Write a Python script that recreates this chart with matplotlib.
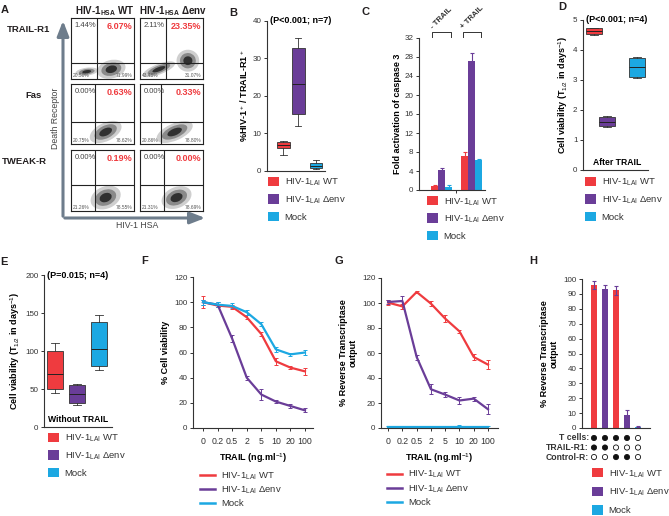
import matplotlib
matplotlib.use("Agg")
import matplotlib.pyplot as plt
from matplotlib.patches import Patch, Ellipse
from matplotlib.lines import Line2D

W, H = 669, 516
RED = "#ef3b3f"
PURPLE = "#6a3d98"
BLUE = "#1ca8e2"
COLORS = [RED, PURPLE, BLUE]
INK = "#231f20"
ARROW = "#6e7d8c"

plt.rcParams["font.family"] = ["Liberation Sans", "DejaVu Sans"]
plt.rcParams["mathtext.fontset"] = "custom"
plt.rcParams["mathtext.rm"] = "Liberation Sans"
plt.rcParams["mathtext.bf"] = "Liberation Sans:bold"
plt.rcParams["axes.linewidth"] = 0.8

GROUPS = ["HIV-1$_{\\mathrm{LAI}}$ WT", "HIV-1$_{\\mathrm{LAI}}$ Δenv", "Mock"]

# A: flow cytometry quadrant read-outs
a_rows = ["TRAIL-R1", "Fas", "TWEAK-R"]
a_cols = ["HIV-1$_{\\mathbf{HSA}}$ WT", "HIV-1$_{\\mathbf{HSA}}$ Δenv"]
a_upper_left = [["1.44%", "2.11%"], ["0.00%", "0.00%"], ["0.00%", "0.00%"]]
a_upper_right = [["6.07%", "23.35%"], ["0.63%", "0.33%"], ["0.19%", "0.00%"]]
a_lower_left = [["20.50%", "43.48%"], ["20.75%", "20.86%"], ["21.26%", "21.31%"]]
a_lower_right = [["71.99%", "31.07%"], ["78.62%", "78.80%"], ["78.55%", "78.69%"]]
a_gate_x = [[0.41, 0.41], [0.38, 0.33], [0.38, 0.38]]
a_gate_y = [[0.26, 0.26], [0.37, 0.37], [0.43, 0.43]]

# B: %HIV-1+/TRAIL-R1+ (whislo, q1, median, q3, whishi)
b_stats = [(4.3, 6.0, 6.8, 7.7, 7.9), (12.0, 15.1, 23.3, 32.8, 35.5), (0.5, 0.9, 1.4, 2.0, 2.8)]

# C: fold activation of caspase 3
c_conditions = ["- TRAIL", "+ TRAIL"]
c_minus = [0.8, 4.3, 0.6]
c_minus_err = [0.2, 0.4, 0.5]
c_plus = [7.1, 27.2, 6.4]
c_plus_err = [0.8, 1.6, 0.1]

# D: cell viability after TRAIL
d_stats = [(4.51, 4.53, 4.63, 4.72, 4.73), (1.43, 1.47, 1.61, 1.78, 1.79), (3.08, 3.11, 3.42, 3.74, 3.76)]

# E: cell viability without TRAIL
e_stats = [(45, 50.5, 70, 100, 110), (29.5, 31.6, 44, 55, 57), (75.6, 80.4, 103, 138.5, 147)]

# F / G: TRAIL dose response
trail_doses = ["0", "0.2", "0.5", "2", "5", "10", "20", "100"]
f_wt = [100, 97.3, 96.3, 88, 74.7, 53, 48, 45]
f_wt_err = [5, 1.5, 1.5, 1.5, 1.5, 3, 1.5, 3]
f_env = [100, 98, 71, 40, 26.6, 21, 17.5, 14]
f_env_err = [2, 2, 3, 1.5, 4, 1.5, 1.5, 1.5]
f_mock = [100, 98, 97, 92, 82.5, 62.5, 58.5, 60]
f_mock_err = [2, 2, 2, 2, 1.5, 2, 1.5, 2]
g_wt = [100.3, 97.3, 108.8, 99.5, 87.5, 77.3, 56.8, 50.7]
g_wt_err = [2, 2, 1, 2, 3, 1.5, 2.5, 3.5]
g_env = [100.8, 101.6, 56.8, 31, 26.7, 22, 23.5, 15]
g_env_err = [1.5, 4, 2, 4, 2, 3, 1.5, 4]
g_mock = [0.5, 0.5, 0.5, 0.5, 0.5, 0.5, 0.5, 0.5]
g_mock_err = [1, 1.5, 1, 1, 1.5, 2, 1, 1]

# H: reverse transcriptase output with receptor blocking
h_values = [96, 93, 92.5, 9, 1]
h_err = [2.5, 3, 3, 3, 0.4]
h_colors = [RED, PURPLE, RED, PURPLE, BLUE]
h_rows = ["T cells:", "TRAIL-R1:", "Control-R:"]
h_t_cells = [1, 1, 1, 1, 0]
h_trail_r1 = [1, 1, 0, 0, 0]
h_control_r = [0, 0, 1, 1, 0]

fig = plt.figure(figsize=(W / 100, H / 100), dpi=100)


def px_axes(left, top, right, bottom):
    ax = fig.add_axes([left / W, 1 - bottom / H, (right - left) / W, (bottom - top) / H])
    ax.set_facecolor("none")
    return ax


def style(ax):
    for side in ("top", "right"):
        ax.spines[side].set_visible(False)
    for side in ("left", "bottom"):
        ax.spines[side].set_color("#333333")
        ax.spines[side].set_linewidth(0.8)
    ax.tick_params(labelsize=5.8, length=2.5, width=0.7, pad=1.5, colors="#333333")


def legend(ax, handles, x, y, spacing, kind="patch"):
    kw = dict(handlelength=1.15, handleheight=1.15) if kind == "patch" else dict(handlelength=1.6)
    ax.legend(handles=handles, loc="upper left", bbox_to_anchor=(x / W, 1 - y / H),
              bbox_transform=fig.transFigure, frameon=False, fontsize=6.8, borderpad=0,
              borderaxespad=0, labelspacing=spacing, handletextpad=0.6, labelcolor="#333333", **kw)


patches = [Patch(facecolor=c, edgecolor="none", label=g) for c, g in zip(COLORS, GROUPS)]
lines = [Line2D([], [], color=c, lw=1.8, label=g) for c, g in zip(COLORS, GROUPS)]


def boxes(ax, stats, positions, width):
    bstats = [dict(whislo=s[0], q1=s[1], med=s[2], q3=s[3], whishi=s[4]) for s in stats]
    art = ax.bxp(bstats, positions=positions, widths=width, patch_artist=True, showfliers=False,
                 manage_ticks=False, boxprops=dict(linewidth=0.6, edgecolor="#333333"),
                 medianprops=dict(color="#222222", linewidth=0.7),
                 whiskerprops=dict(color="#333333", linewidth=0.6),
                 capprops=dict(color="#333333", linewidth=0.6))
    for patch, c in zip(art["boxes"], COLORS):
        patch.set_facecolor(c)


# ---------- A ----------
col_x = [(71, 134), (140, 203)]
row_y = [(18, 79), (84, 144), (150, 211)]
a_clouds = [
    [[(0.25, 0.12, 0.36, 0.13, 8), (0.64, 0.16, 0.46, 0.3, 15)],
     [(0.3, 0.16, 0.55, 0.17, 22), (0.76, 0.3, 0.36, 0.36, 35)]],
    [[(0.55, 0.2, 0.55, 0.3, 28)], [(0.55, 0.2, 0.62, 0.28, 25)]],
    [[(0.55, 0.22, 0.5, 0.36, 25)], [(0.58, 0.22, 0.5, 0.34, 25)]],
]
for r, (top, bottom) in enumerate(row_y):
    for c, (left, right) in enumerate(col_x):
        ax = px_axes(left, top, right, bottom)
        ax.set_xlim(0, 1)
        ax.set_ylim(0, 1)
        ax.set_xticks([])
        ax.set_yticks([])
        for sp in ax.spines.values():
            sp.set_linewidth(0.8)
            sp.set_color("#222222")
        for cx, cy, w, h, ang in a_clouds[r][c]:
            for scale, col in ((1.0, "#cfcfcf"), (0.7, "#8a8a8a"), (0.4, "#303030")):
                ax.add_patch(Ellipse((cx, cy), w * scale, h * scale, angle=ang, color=col, lw=0))
        ax.axvline(a_gate_x[r][c], color="#222222", lw=0.8)
        ax.axhline(a_gate_y[r][c], color="#222222", lw=0.8)
        ax.text(0.06, 0.93, a_upper_left[r][c], fontsize=5.5, color="#444444", va="top")
        ax.text(0.97, 0.93, a_upper_right[r][c], fontsize=6.5, color=RED, fontweight="bold",
                va="top", ha="right")
        ax.text(0.03, 0.04, a_lower_left[r][c], fontsize=3.5, color="#555555")
        ax.text(0.97, 0.04, a_lower_right[r][c], fontsize=3.5, color="#555555", ha="right")

# ---------- B ----------
ax = px_axes(267, 21, 325, 171)
style(ax)
boxes(ax, b_stats, [0, 1, 2.2], 0.85)
ax.set_xlim(-1.1, 2.8)
ax.set_ylim(0, 40)
ax.set_yticks([0, 10, 20, 30, 40])
ax.set_xticks([])
ax.set_ylabel("%HIV-1$^+$ / TRAIL-R1$^+$", fontsize=6.5, fontweight="bold", labelpad=2)
ax.text(0.05, 1.0, "(P<0.001; n=7)", transform=ax.transAxes, fontsize=6.5, fontweight="bold", va="center")
legend(ax, patches, 268, 177, 0.62)

# ---------- C ----------
ax = px_axes(419, 38, 485, 190)
style(ax)
w = 0.23
for k in range(3):
    ax.bar([0 + (k - 1) * w, 1 + (k - 1) * w], [c_minus[k], c_plus[k]], width=w,
           color=COLORS[k], yerr=[c_minus_err[k], c_plus_err[k]],
           error_kw=dict(ecolor=COLORS[k], elinewidth=0.8, capsize=1.5, capthick=0.8))
ax.set_xlim(-0.74, 1.43)
ax.set_ylim(0, 32)
ax.set_yticks(range(0, 33, 4))
ax.set_xticks([0.475])
ax.set_xticklabels([])
ax.set_ylabel("Fold activation of caspase 3", fontsize=6.5, fontweight="bold", labelpad=2)
tr = ax.get_xaxis_transform()
for g, lab in enumerate(c_conditions):
    ax.plot([g - 0.3, g - 0.3, g + 0.3, g + 0.3], [1.008, 1.042, 1.042, 1.008], color="#333333",
            lw=0.7, transform=tr, clip_on=False)
    ax.text(g - 0.24, 1.05, lab, transform=tr, rotation=45, rotation_mode="anchor", ha="left",
            va="bottom", fontsize=5.6, fontweight="bold", color="#333333")
legend(ax, patches, 427, 196, 0.62)

# ---------- D ----------
ax = px_axes(583, 20, 648, 170)
style(ax)
boxes(ax, d_stats, [0, 0.93, 3.07], 1.1)
ax.set_xlim(-0.8, 3.85)
ax.set_ylim(0, 5)
ax.set_xticks([])
ax.set_ylabel("Cell viability (T$_{1/2}$ in days$^{-1}$)", fontsize=6.5, fontweight="bold", labelpad=2)
ax.text(0.05, 1.0, "(P<0.001; n=4)", transform=ax.transAxes, fontsize=6.5, fontweight="bold", va="center")
ax.text(0.52, 0.05, "After TRAIL", transform=ax.transAxes, fontsize=6.2, fontweight="bold", ha="center", va="center")
legend(ax, patches, 585, 177, 0.62)

# ---------- E ----------
ax = px_axes(44, 275, 112, 427)
style(ax)
boxes(ax, e_stats, [0, 1.3, 2.6], 0.95)
ax.set_xlim(-0.65, 3.35)
ax.set_ylim(0, 200)
ax.set_yticks([0, 50, 100, 150, 200])
ax.set_xticks([])
ax.set_ylabel("Cell viability (T$_{1/2}$ in days$^{-1}$)", fontsize=6.5, fontweight="bold", labelpad=2)
ax.text(0.05, 1.0, "(P=0.015; n=4)", transform=ax.transAxes, fontsize=6.5, fontweight="bold", va="center")
ax.text(0.5, 0.05, "Without TRAIL", transform=ax.transAxes, fontsize=6.2, fontweight="bold", ha="center", va="center")
legend(ax, patches, 48, 433, 0.62)


# ---------- F / G ----------
def dose_panel(ax, series, errs, xlim, ylabel):
    style(ax)
    xs = range(len(trail_doses))
    for ys, es, c in zip(series, errs, COLORS):
        ax.errorbar(xs, ys, yerr=es, color=c, lw=1.6, elinewidth=0.7, capsize=1.5, capthick=0.7)
    ax.set_xlim(*xlim)
    ax.set_ylim(0, 120)
    ax.set_yticks(range(0, 121, 20))
    ax.set_xticks(list(xs))
    ax.set_xticklabels(trail_doses)
    ax.tick_params(axis="x", labelsize=6.3, pad=4)
    ax.set_xlabel("TRAIL (ng.ml$^{-1}$)", fontsize=6.5, fontweight="bold", labelpad=4)
    ax.set_ylabel(ylabel, fontsize=6.5, fontweight="bold", labelpad=3, linespacing=1.1)


ax = px_axes(193, 277, 313, 428)
dose_panel(ax, [f_wt, f_env, f_mock], [f_wt_err, f_env_err, f_mock_err], (-0.69, 7.55), "% Cell viability")
legend(ax, lines, 200, 470, 0.33, kind="line")

ax = px_axes(381, 278, 498, 428)
dose_panel(ax, [g_wt, g_env, g_mock], [g_wt_err, g_env_err, g_mock_err], (-0.5, 7.7),
           "% Reverse Transcriptase\noutput")
legend(ax, lines, 387, 469, 0.33, kind="line")

# ---------- H ----------
ax = px_axes(582, 279, 650, 428)
style(ax)
xs = list(range(len(h_values)))
ax.bar(xs, h_values, width=0.55, color=h_colors, yerr=h_err,
       error_kw=dict(ecolor="#6a3d98", elinewidth=0.8, capsize=1.2, capthick=0.8))
ax.set_xlim(-1.09, 5.09)
ax.set_ylim(0, 100)
ax.set_yticks(range(0, 101, 10))
ax.set_xticks([])
ax.set_ylabel("% Reverse Transcriptase\noutput", fontsize=6.5, fontweight="bold", labelpad=3, linespacing=1.1)
tr = ax.get_xaxis_transform()
for k, (lab, flags) in enumerate(zip(h_rows, [h_t_cells, h_trail_r1, h_control_r])):
    yy = -0.067 - 0.064 * k
    ax.text(-0.45, yy, lab, transform=tr, ha="right", va="center", fontsize=6.2, fontweight="bold", color="#333333")
    ax.scatter(xs, [yy] * len(xs), s=14, transform=tr, clip_on=False, linewidths=0.6,
               facecolors=["#111111" if f else "white" for f in flags], edgecolors="#111111")
legend(ax, patches, 592, 468, 0.75)

# ---------- overlay: labels and arrows ----------
ov = fig.add_axes([0, 0, 1, 1])
ov.set_xlim(0, W)
ov.set_ylim(H, 0)
ov.axis("off")
for lab, x, y in [("A", 5, 10), ("B", 233, 13), ("C", 365, 12), ("D", 562, 7), ("E", 4, 262),
                  ("F", 145, 261), ("G", 339, 261), ("H", 533, 261)]:
    ov.text(x, y, lab, fontsize=8, fontweight="bold", ha="center", va="center", color=INK)
ov.annotate("", xy=(63, 18), xytext=(63, 219),
            arrowprops=dict(arrowstyle="-|>,head_length=0.9,head_width=0.35", color=ARROW, lw=2.2))
ov.annotate("", xy=(208, 218), xytext=(62, 218),
            arrowprops=dict(arrowstyle="-|>,head_length=0.9,head_width=0.35", color=ARROW, lw=2.2))
ov.text(56, 118, "Death Receptor", rotation=90, fontsize=6.3, color="#444444", ha="center", va="center")
ov.text(137, 226, "HIV-1 HSA", fontsize=6.3, color="#444444", ha="center", va="center")
for (left, right), lab in zip(col_x, a_cols):
    ov.text((left + right) / 2 + 2, 11, lab, fontsize=7, fontweight="bold", ha="center", va="center", color=INK)
for (top, bottom), lab, cx in zip(row_y, a_rows, [29, 33, 24]):
    ov.text(cx, top + 11, lab, fontsize=6.8, fontweight="bold", ha="center", va="center", color=INK)

fig.savefig("out.png", dpi=100)
